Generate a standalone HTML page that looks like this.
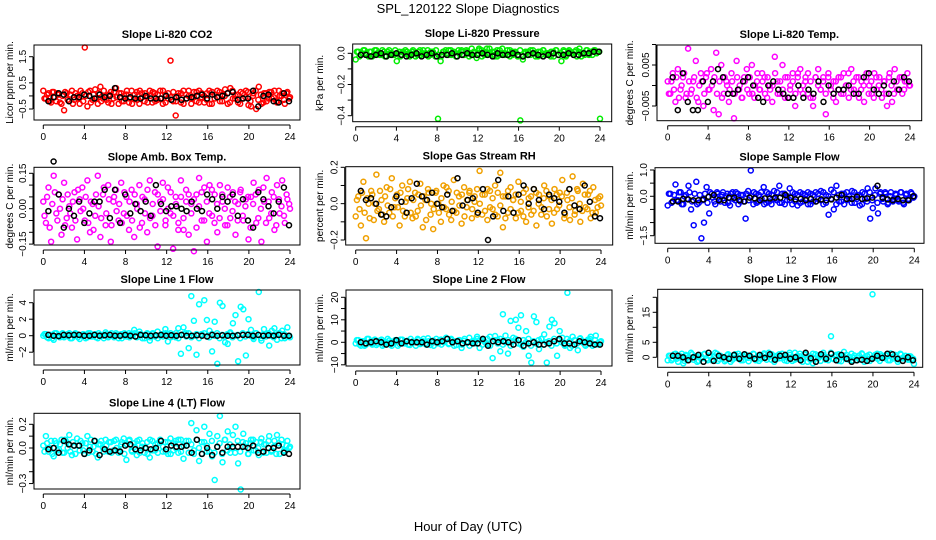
<!DOCTYPE html>
<html><head><meta charset="utf-8">
<style>
body{margin:0;background:#fff;}
svg{display:block;font-family:"Liberation Sans",sans-serif;}
.ttl{font-size:11px;font-weight:bold;text-anchor:middle;}
.tk{font-size:10px;text-anchor:middle;}
.yl{font-size:10px;text-anchor:middle;}
</style></head>
<body>
<svg id="chart" width="936" height="540" viewBox="0 0 936 540" xmlns="http://www.w3.org/2000/svg">
<text x="468" y="13" style="font-size:13px;text-anchor:middle">SPL_120122  Slope Diagnostics</text>
<text x="468" y="531" style="font-size:13px;text-anchor:middle">Hour of Day (UTC)</text>
</svg>
<script>
const xTicks = [0,4,8,12,16,20,24];
const co2Color = [0.2,-0.1,0.1,-0.25,0.15,-0.2,0.05,-0.3,-0.55,0.1,-0.2,0.2,-0.15,0.0,-0.3,0.1,1.85,-0.4,0.2,-0.15,0.25,-0.3,0.35,-0.1,0.0,-0.25,0.15,-0.1,0.3,-0.3,0.1,-0.2,0.05,-0.25,0.2,-0.1,0.15,-0.3,0.1,-0.2,0.0,0.2,-0.25,0.1,-0.15,0.2,-0.3,0.05,-0.1,1.35,-0.2,-0.75,0.1,-0.25,0.2,-0.1,0.0,-0.3,0.15,-0.2,0.2,-0.05,-0.25,0.1,-0.3,0.15,-0.1,0.2,-0.2,0.05,0.25,-0.3,0.3,-0.1,0.0,-0.25,0.15,-0.1,0.2,-0.35,-0.4,0.1,-0.5,0.35,-0.3,0.1,-0.2,0.15,-0.1,0.2,-0.25,0.0,0.1,-0.3,0.15,-0.05];
const co2Color2 = [-0.1,0.05,-0.2,0.15,-0.05,0.1,-0.25,0.0,0.15,-0.15,0.05,-0.3,0.1,-0.1,0.2,-0.2,0.0,0.15,-0.25,0.05,-0.1,0.1,-0.2,0.2,-0.15,0.05,-0.3,0.15,-0.05,0.1,-0.2,0.0,0.2,-0.1,-0.3,0.05,-0.15,0.2,-0.05,0.1,-0.25,0.0,0.15,-0.2,0.05,-0.1,0.2,-0.25,0.1,-0.05,0.15,-0.2,0.0,0.1,-0.3,0.05,0.2,-0.1,-0.05,0.15,-0.25,0.1,0.0,-0.15,0.2,-0.3,0.05,-0.05,0.15,-0.2,0.0,0.1,-0.25,0.2,-0.1,0.05,-0.3,0.1,-0.05,0.15,-0.2,0.0,0.2,-0.15,0.05,-0.25,0.1,-0.1,0.15,-0.05,-0.2,0.2,0.0,-0.15,0.1,-0.1];
const co2Black = [-0.2,-0.05,0.1,0.05,-0.2,-0.05,-0.05,0.05,0.0,-0.1,0.05,-0.05,0.0,0.3,-0.05,-0.1,-0.05,-0.1,-0.1,0.0,-0.1,-0.1,-0.1,0.0,-0.15,-0.05,-0.15,-0.1,-0.05,0.0,0.05,-0.1,0.05,-0.05,0.0,0.1,0.15,-0.15,-0.1,-0.1,0.2,-0.4,0.0,0.05,-0.2,-0.25,0.1,-0.2];
const presColor = [-0.04,0.01,-0.01,0.02,0,-0.02,0.01,-0.01,0.02,0,-0.01,0.01,-0.02,0.02,0,-0.01,-0.05,0.01,-0.01,0.0,0.01,-0.02,0.01,0,-0.01,0.02,0,-0.01,0.02,-0.01,0.01,-0.02,-0.42,-0.05,0.01,0.02,-0.01,0.02,0,-0.02,0.02,0.01,-0.01,0.02,0,-0.01,0.01,-0.03,0.03,0.02,-0.01,0.03,0,0.01,-0.02,0.02,-0.01,0.03,0,-0.01,0.02,-0.01,0.01,-0.02,-0.43,-0.04,0.01,-0.01,0.02,0,-0.02,0.01,-0.01,0.02,0,-0.01,0.01,-0.02,0.02,-0.01,-0.05,0.01,-0.01,0.02,0,0.01,-0.02,0.03,0,-0.01,0.02,0.01,-0.01,0.02,0.01,-0.42];
const presColor2 = [0.01,-0.02,0.0,0.02,-0.01,0.01,-0.02,0.02,0.0,-0.01,0.02,-0.02,0.01,0.0,-0.01,0.02,0.0,-0.02,0.01,0.02,-0.01,0.0,0.02,-0.02,0.01,-0.01,0.02,0.0,-0.02,0.01,0.0,0.02,-0.01,-0.02,0.01,0.0,0.02,-0.01,0.01,-0.02,0.0,0.02,-0.01,0.01,-0.02,0.03,0.0,-0.01,0.02,-0.02,0.01,0.0,0.03,-0.01,0.01,-0.02,0.02,0.0,-0.01,0.02,-0.02,0.01,0.0,-0.01,0.02,-0.02,0.0,0.01,-0.01,0.02,0.0,-0.02,0.01,0.02,-0.01,0.0,-0.02,0.01,0.02,-0.01,0.0,0.02,-0.02,0.01,0.0,-0.01,0.02,0.01,-0.02,0.0,0.02,-0.01,0.01,0.02,0.0,0.01];
const presBlack = [-0.01,-0.01,-0.02,-0.01,0,-0.02,-0.01,0,-0.01,-0.02,-0.01,0,-0.02,-0.01,0,-0.02,-0.01,-0.01,0,-0.02,-0.01,0,-0.01,-0.01,0,-0.01,-0.02,0,-0.01,-0.01,0,-0.01,-0.02,-0.01,0,-0.01,-0.02,-0.01,0,-0.01,-0.01,0,-0.01,-0.01,0,0,0.01,0.01];
const tempColor = [0.001,-0.002,0.003,-0.004,0.004,-0.001,0.002,-0.003,0.009,-0.002,0.001,0.006,-0.004,0.003,-0.005,0.002,-0.001,0.004,-0.006,0.008,-0.007,0.005,-0.002,0.001,-0.004,0.003,-0.008,0.006,-0.001,-0.003,0.002,0.004,-0.002,0.005,-0.003,0.001,-0.001,0.003,0.002,-0.003,0.0,-0.004,0.007,0.001,-0.002,0.005,-0.003,0.002,-0.001,0.003,-0.005,0.002,0.004,-0.002,0.001,0.003,-0.003,-0.005,0.002,0.004,-0.001,0.002,-0.007,0.003,-0.001,0.001,-0.004,0.002,-0.002,0.003,0.0,-0.003,0.004,-0.001,0.002,-0.003,0.001,-0.004,0.003,0.0,-0.002,0.003,-0.001,0.002,-0.003,0.001,-0.005,0.003,-0.004,0.004,-0.001,0.002,-0.002,0.001,0.003,0.0];
const tempColor2 = [-0.002,0.001,-0.001,0.002,-0.003,0.0,0.003,-0.002,0.001,-0.001,0.002,-0.003,0.0,0.001,-0.002,0.003,-0.001,0.0,0.002,-0.002,0.001,-0.003,0.002,0.0,-0.001,0.001,-0.002,0.002,0.0,-0.003,0.001,-0.001,0.002,-0.002,0.0,0.003,-0.001,0.001,-0.002,0.002,-0.001,0.0,0.003,-0.002,0.001,-0.001,0.002,-0.003,0.0,0.001,-0.002,0.003,-0.001,0.0,0.002,-0.002,0.001,-0.003,0.002,0.0,-0.001,0.001,-0.002,0.002,0.0,-0.003,0.001,-0.001,0.002,-0.002,0.0,0.003,-0.001,0.001,-0.002,0.002,-0.001,0.0,0.002,-0.002,0.001,-0.003,0.002,0.0,-0.001,0.001,-0.002,0.002,0.0,-0.002,0.001,-0.001,0.002,-0.001,0.001,0.0];
const tempBlack = [0.002,-0.006,0.003,-0.004,-0.006,-0.006,0.001,-0.004,0.001,0.004,0.002,-0.002,-0.002,-0.001,0.001,0.002,0.0,-0.003,-0.004,0.0,0.001,-0.001,-0.002,-0.003,-0.003,0.0,-0.003,-0.001,-0.002,0.001,-0.004,0.0,-0.002,-0.001,-0.001,0.0,-0.002,-0.002,0.002,0.003,-0.001,-0.002,0.0,-0.002,0.001,-0.001,0.002,0.001];
const boxColor = [0.03,-0.06,0.09,-0.14,0.14,-0.02,0.06,-0.11,0.11,-0.04,0.01,-0.08,0.07,-0.13,0.04,0.09,-0.05,0.12,-0.1,0.02,-0.03,0.14,-0.12,0.06,-0.07,0.1,-0.14,0.03,0.08,-0.05,0.11,-0.02,0.05,-0.09,0.08,-0.12,0.02,0.1,-0.06,0.04,-0.1,0.12,-0.03,0.07,-0.16,0.03,0.11,-0.07,0.09,-0.02,-0.17,0.05,-0.09,0.12,-0.04,0.08,-0.11,0.02,-0.18,0.06,0.13,-0.05,0.09,-0.14,0.1,-0.03,0.06,-0.1,0.1,0.03,-0.07,0.09,-0.04,0.07,-0.11,0.02,0.08,-0.05,0.04,-0.13,0.05,0.11,-0.06,0.08,-0.14,0.03,0.13,-0.04,0.07,-0.09,0.1,-0.02,0.12,-0.06,0.04,0.0];
const boxColor2 = [-0.03,0.05,-0.08,0.02,0.07,-0.05,0.0,0.04,-0.07,0.06,-0.02,0.03,-0.05,0.08,-0.01,0.0,0.05,-0.06,0.03,-0.09,0.06,0.01,-0.04,0.09,-0.02,0.04,-0.07,0.05,-0.01,0.02,-0.06,0.07,-0.03,0.03,-0.05,0.06,0.0,-0.08,0.05,-0.02,0.08,-0.04,0.02,-0.07,0.06,-0.01,0.04,-0.05,0.0,0.07,-0.03,0.02,-0.06,0.05,-0.09,0.03,0.06,-0.02,0.04,-0.08,0.01,0.07,-0.05,0.03,-0.02,0.08,-0.06,0.02,-0.04,0.06,0.0,-0.07,0.05,-0.01,0.03,-0.05,0.07,-0.03,0.01,0.05,-0.08,0.02,0.06,-0.04,0.0,0.09,-0.06,0.03,-0.02,0.05,-0.07,0.04,0.01,-0.03,0.06,0.02];
const boxBlack = [-0.01,0.2,0.06,-0.08,0.0,-0.03,0.03,-0.06,-0.02,0.03,0.03,0.08,-0.04,0.08,-0.06,0.06,-0.02,0.02,-0.01,0.03,-0.03,0.1,0.02,-0.01,0.01,0.01,0.0,-0.01,0.03,0.0,-0.01,0.06,0.04,0.0,0.05,0.03,0.06,-0.03,0.04,-0.05,-0.08,0.07,0.04,0.01,-0.02,0.03,0.09,-0.07];
const rhColor = [-0.07,0.04,-0.12,0.12,-0.19,0.0,0.07,-0.09,0.16,-0.03,0.02,-0.1,0.09,-0.05,0.14,-0.02,0.05,-0.12,0.1,-0.07,0.03,0.12,-0.08,0.06,-0.04,0.11,-0.13,0.02,0.08,-0.06,-0.14,0.06,0.0,-0.1,0.1,-0.03,0.07,-0.09,0.13,-0.05,0.04,-0.11,0.09,-0.02,0.06,-0.08,0.01,0.08,0.18,-0.06,0.05,-0.09,0.07,-0.03,0.1,-0.07,0.17,-0.13,0.04,-0.05,0.09,0.02,-0.08,0.12,-0.04,0.06,-0.1,0.03,-0.06,0.08,-0.12,0.05,-0.02,0.1,-0.07,0.04,-0.11,0.08,-0.03,0.06,0.13,-0.06,0.02,-0.09,0.15,-0.04,0.07,-0.1,0.11,-0.02,0.05,-0.08,0.09,-0.05,0.03,-0.01];
const rhColor2 = [0.02,-0.03,0.06,-0.05,0.03,-0.08,0.05,0.0,-0.04,0.07,-0.06,0.04,-0.01,0.08,-0.07,0.03,-0.02,0.06,-0.04,0.01,0.08,-0.05,0.02,-0.07,0.05,-0.01,0.04,-0.09,0.06,0.0,-0.03,0.07,-0.05,0.03,-0.02,0.09,-0.06,0.01,-0.04,0.06,-0.01,0.05,-0.07,0.02,0.07,-0.03,0.04,-0.06,0.0,0.05,-0.04,0.08,-0.02,0.03,-0.06,0.06,-0.01,0.04,-0.08,0.07,-0.03,0.02,0.05,-0.05,0.01,-0.07,0.08,-0.02,0.04,-0.04,0.06,0.0,-0.06,0.03,0.07,-0.03,0.02,-0.05,0.05,-0.01,0.04,-0.08,0.06,-0.02,0.03,-0.06,0.08,0.0,-0.04,0.05,-0.03,0.07,-0.05,0.02,-0.02,0.04];
const rhBlack = [0.07,0.02,0.03,0.0,-0.06,-0.07,-0.02,0.04,0.01,-0.05,0.03,0.11,0.04,0.02,0.06,0.0,-0.02,0.05,-0.04,0.14,-0.01,0.02,0.03,-0.05,0.08,-0.2,-0.07,0.13,-0.04,0.04,-0.05,0.05,0.1,0.0,0.08,0.02,-0.03,0.05,0.03,0.01,-0.05,0.08,-0.01,-0.03,0.1,0.01,-0.07,-0.08];
const sampColor = [-0.35,0.1,-0.2,0.45,-0.15,0.15,-0.3,0.05,0.4,-0.5,-1.1,0.55,-0.25,-1.6,-1.0,0.35,-0.65,0.1,-0.2,0.15,-0.1,0.05,-0.25,0.1,-0.35,0.15,-0.15,0.1,-0.2,0.05,-0.85,0.2,0.98,-0.3,0.1,-0.2,0.15,0.35,-0.25,0.1,-0.3,0.2,-0.15,0.4,-0.25,0.1,-0.15,0.3,-0.3,0.1,-0.35,0.15,-0.2,0.05,-0.3,0.1,-0.2,0.15,-0.1,0.2,-0.3,0.05,-0.7,0.25,-0.5,0.4,-0.2,0.1,-0.3,0.15,-0.1,0.2,-0.25,0.05,-0.35,0.15,-0.1,0.3,-0.85,-0.45,0.3,-0.65,0.15,-0.2,0.1,-0.25,0.15,-0.1,0.05,-0.2,0.15,-0.3,0.1,-0.15,0.1,0.0];
const sampColor2 = [0.1,-0.25,0.05,-0.15,0.15,-0.3,0.0,-0.1,0.15,-0.2,0.1,-0.3,0.05,-0.15,0.1,-0.25,0.15,-0.05,-0.3,0.1,-0.2,0.15,0.0,-0.25,0.1,-0.1,0.15,-0.3,0.05,-0.2,0.1,-0.15,0.0,0.15,-0.25,0.05,-0.1,-0.3,0.15,-0.2,0.05,-0.1,0.15,-0.25,0.1,-0.3,0.0,-0.15,0.15,-0.2,0.05,-0.25,0.1,-0.1,0.15,-0.3,0.05,-0.2,0.1,-0.15,0.15,-0.25,0.0,-0.1,0.15,-0.3,0.05,-0.2,0.1,-0.15,0.0,-0.25,0.15,-0.1,0.05,-0.3,0.1,-0.2,0.15,-0.15,0.05,-0.25,0.1,-0.1,0.15,-0.3,0.0,-0.2,0.1,-0.15,0.15,-0.25,0.05,-0.1,0.15,-0.05];
const sampBlack = [-0.2,-0.2,-0.1,-0.12,-0.15,-0.15,-0.12,-0.02,0.05,-0.15,-0.15,-0.05,-0.05,-0.15,-0.2,-0.05,-0.08,-0.15,-0.08,-0.08,-0.05,-0.05,0.05,-0.05,-0.12,-0.1,-0.15,-0.1,-0.2,-0.12,-0.15,-0.12,-0.05,0.05,-0.1,-0.1,-0.02,-0.1,-0.08,-0.05,0.4,-0.05,-0.12,-0.15,-0.1,-0.15,-0.15,0.0];
const l1Color = [0.0,0.2,-0.3,0.1,-0.5,0.3,-0.1,0.2,-0.2,0.1,0.3,-0.3,0.0,0.2,-0.4,0.1,0.1,-0.2,0.3,-0.1,0.2,-0.3,0.1,0.0,0.4,-0.2,0.1,-0.1,0.3,-0.3,0.2,0.0,-0.1,0.3,0.2,0.7,-0.2,0.5,0.1,-0.3,0.3,-0.6,0.2,-0.1,0.5,0.0,0.2,0.8,-0.7,0.3,0.1,-0.2,0.9,-2.2,1.0,0.3,-1.5,4.8,1.8,-2.3,3.8,0.2,4.3,1.9,0.6,-1.9,1.7,-3.4,4.0,3.6,-0.8,-1.0,0.4,1.5,2.5,-3.1,3.5,3.2,-2.4,2.0,0.7,-0.4,0.3,5.3,-0.6,0.8,0.2,-1.2,0.6,0.9,-0.5,0.3,0.6,-0.3,1.0,-0.2];
const l1Color2 = [0.2,-0.2,0.1,-0.3,0.3,0.0,-0.2,0.3,-0.1,0.2,-0.3,0.1,0.3,-0.2,0.0,0.2,-0.3,0.3,-0.1,0.1,-0.2,0.3,0.0,-0.3,0.2,-0.1,0.3,-0.2,0.1,0.0,-0.3,0.3,0.1,-0.2,0.0,0.3,-0.1,0.2,-0.3,0.1,0.2,-0.2,0.3,0.0,-0.3,0.1,-0.1,0.3,0.2,-0.2,0.0,0.3,-0.3,0.1,0.2,-0.1,0.3,-0.2,0.0,0.2,-0.3,0.1,0.3,-0.1,-0.2,0.2,0.0,0.3,-0.3,0.1,-0.1,0.2,0.3,-0.2,0.0,0.1,-0.3,0.3,-0.1,0.2,0.0,-0.2,0.3,0.1,-0.3,0.2,-0.1,0.3,0.0,-0.2,0.1,0.3,-0.3,0.2,-0.1,0.0];
const l1Black = [0.1,0.0,-0.05,0.1,0.05,0.1,0.1,0.0,0.0,0.1,0.0,0.05,0.1,0.0,0.0,0.1,0.0,-0.1,0.1,0.05,0.0,0.05,0.1,0.0,0.05,0.0,0.1,0.0,0.0,0.05,0.0,-0.1,0.1,0.0,0.05,0.0,0.0,0.05,0.1,0.1,0.0,0.1,0.0,0.05,0.0,0.1,0.0,0.0];
const l2Color = [-0.5,1.0,-1.5,0.5,-1.0,1.5,-0.5,0.8,-1.2,0.3,1.2,-1.0,0.0,0.8,-1.5,0.5,0.6,-0.8,1.2,-0.5,0.7,-1.2,0.4,0.0,1.5,-0.8,0.5,-0.4,1.8,-1.2,0.8,0.0,-0.5,1.2,0.6,2.0,-0.8,1.5,0.4,-1.2,1.0,-2.5,0.6,-0.3,2.0,0.0,0.8,2.5,-2.5,1.0,0.3,-0.8,2.5,-7.0,2.8,1.0,-4.0,12.5,3.0,-5.0,9.5,2.0,10.0,6.5,12.0,-2.0,5.0,-6.0,-9.0,11.5,9.0,-3.0,1.5,3.5,-9.0,7.0,10.0,8.5,-6.0,5.0,2.0,-1.5,22.0,-2.5,2.5,0.8,-3.5,1.8,0.5,-1.5,1.2,2.5,-0.8,3.0,-1.0,0.5];
const l2Color2 = [1.0,-1.0,0.5,-1.5,1.5,0.0,-1.0,1.2,-0.5,0.8,-1.5,0.3,1.5,-1.0,0.0,1.0,-1.5,1.2,-0.5,0.5,-1.0,1.5,0.0,-1.5,1.0,-0.5,1.5,-1.0,0.5,0.0,-1.5,1.5,0.5,-1.0,0.0,1.5,-0.5,1.0,-1.5,0.5,1.0,-1.0,1.5,0.0,-1.5,0.5,-0.5,1.5,1.0,-1.0,0.0,1.5,-1.5,0.5,1.0,-0.5,1.5,-1.0,0.0,1.0,-1.5,0.5,1.5,-0.5,-1.0,1.0,0.0,1.5,-1.5,0.5,-0.5,1.0,1.5,-1.0,0.0,0.5,-1.5,1.5,-0.5,1.0,0.0,-1.0,1.5,0.5,-1.5,1.0,-0.5,1.5,0.0,-1.0,0.5,1.5,-1.5,1.0,-0.5,0.0];
const l2Black = [0.0,-0.5,0.0,0.5,0.0,-1.0,-0.5,1.0,-0.5,0.5,0.0,0.0,0.0,-1.0,0.5,0.0,0.5,1.5,0.0,0.5,-0.5,0.0,-0.5,-0.5,1.5,-1.5,0.5,0.0,0.5,0.0,-1.0,1.0,-1.5,-0.5,0.0,-1.0,-1.0,-0.5,0.5,1.5,-0.5,-0.5,-1.0,0.5,0.0,-0.5,-1.0,-1.0];
const l3Color = [-1.0,0.5,-0.5,1.2,-1.5,0.3,-2.0,0.8,0.0,1.5,-0.8,0.4,-1.2,0.2,1.0,-0.5,0.6,-1.0,0.3,1.2,-0.6,0.0,-1.3,0.7,0.2,-0.8,1.0,-0.3,0.5,-1.0,0.8,-0.2,0.3,1.2,-1.0,0.5,-0.5,1.0,0.0,1.5,-0.8,0.3,-0.5,1.0,-0.3,0.6,-1.2,1.5,0.0,-0.8,0.5,1.2,-0.6,0.8,-1.5,0.3,-2.0,1.0,-0.4,0.6,1.5,-0.8,0.0,7.0,-0.5,0.8,-1.2,0.4,1.8,-0.6,0.2,-1.0,0.6,0.0,-0.8,1.0,-0.3,0.5,-1.2,21.0,0.8,-0.5,1.0,-0.2,0.6,-1.0,1.3,-0.4,0.2,-0.8,0.9,0.0,-0.5,0.4,-1.0,-2.2];
const l3Color2 = [0.5,-1.0,1.0,-0.5,0.0,1.2,-1.2,0.5,-0.8,1.0,0.0,-1.5,0.8,-0.3,1.2,-1.0,0.3,-0.6,1.5,-1.2,0.5,0.0,-0.8,1.0,-1.5,0.6,-0.2,1.2,-1.0,0.3,0.8,-1.3,0.0,1.0,-0.5,-1.2,0.6,1.3,-0.8,0.2,1.0,-1.5,0.5,-0.3,1.2,-1.0,0.0,0.8,-1.2,1.5,-0.5,0.3,-1.5,1.0,0.0,-0.8,1.2,-0.4,0.6,-1.2,0.8,0.2,-1.0,1.5,-0.6,0.3,1.0,-1.3,0.0,0.8,-0.8,1.2,-0.2,-1.0,0.6,1.3,-1.5,0.4,0.9,-0.6,0.0,1.2,-1.2,0.5,-0.3,1.0,-1.0,0.2,0.8,-1.5,1.2,-0.4,0.5,-0.8,0.3,-0.5];
const l3Black = [0.5,0.5,0.0,-1.0,0.0,0.8,-1.5,1.5,-1.2,0.5,0.0,-0.5,0.8,-0.5,1.0,0.5,-0.5,0.8,-0.2,1.0,-0.8,0.5,0.8,-0.5,0.0,-1.0,1.5,-0.3,-1.5,1.0,-0.5,1.2,-1.0,0.8,-0.5,-1.5,-1.0,-0.8,-1.2,-0.5,0.5,-0.2,1.2,1.0,-0.5,-1.2,0.0,-1.0];
const l4Color = [0.02,0.1,-0.03,0.06,-0.07,0.04,-0.01,0.07,-0.04,0.05,0.11,-0.06,0.02,0.08,-0.02,0.04,-0.05,0.1,0.01,-0.03,0.06,-0.08,0.03,0.0,0.07,-0.03,0.05,-0.02,0.07,-0.04,0.03,0.08,-0.1,0.06,-0.02,0.04,-0.06,0.07,0.01,-0.04,0.05,-0.08,0.06,-0.02,0.04,0.07,-0.03,0.05,-0.05,0.08,-0.02,0.06,-0.04,0.07,-0.09,0.02,0.06,0.21,-0.05,0.15,-0.11,0.05,0.18,-0.03,0.12,-0.07,-0.27,0.1,0.27,-0.12,0.07,0.14,-0.04,0.11,0.18,-0.13,-0.35,0.12,0.04,-0.05,0.07,-0.02,0.05,-0.06,0.08,0.03,-0.04,0.1,-0.02,0.06,0.11,-0.05,0.03,-0.03,0.06,0.01];
const l4Color2 = [-0.03,0.04,0.0,-0.05,0.06,-0.02,0.03,-0.04,0.07,0.0,-0.03,0.05,-0.05,0.02,0.06,-0.02,0.04,-0.04,0.07,0.01,-0.05,0.03,0.06,-0.03,0.02,0.05,-0.04,0.06,0.0,-0.02,0.05,-0.05,0.03,0.07,-0.03,0.01,0.06,-0.04,0.04,0.0,-0.05,0.07,-0.02,0.03,-0.04,0.06,0.01,-0.03,0.05,-0.05,0.04,0.0,0.07,-0.03,0.02,0.06,-0.04,0.03,-0.02,0.07,0.0,-0.05,0.05,0.02,-0.03,0.06,-0.04,0.01,0.04,-0.05,0.07,-0.02,0.03,0.0,-0.04,0.06,-0.03,0.05,0.01,-0.05,0.04,0.07,-0.02,0.0,0.05,-0.04,0.03,0.06,-0.03,0.01,-0.05,0.04,0.07,-0.02,0.02,0.0];
const l4Black = [-0.01,0.0,-0.04,0.06,0.03,0.02,0.02,-0.05,-0.02,0.06,-0.06,-0.01,-0.03,-0.02,-0.03,0.02,0.03,-0.01,-0.02,0.0,-0.01,0.0,0.06,-0.01,0.02,0.01,0.01,0.02,-0.04,0.07,-0.05,0.0,-0.06,0.01,-0.04,0.01,0.01,0.01,0.01,0.0,0.02,-0.04,-0.03,0.0,0.0,0.02,-0.04,-0.05];

const panels = [
 {id:'co2',title:'Slope Li-820 CO2',yl:'Licor ppm per min.',ylx:10,box:[34,45,300,120],xp:[43.3,290],ym:[1.5,56.7,-0.5,109],ticks:[-0.5,0,0.5,1,1.5],labs:['-0.5','0.5','1.5'],c:'#ff0000',cv:co2Color,cv2:co2Color2,bv:co2Black},
 {id:'pressure',title:'Slope Li-820 Pressure',yl:'kPa per min.',ylx:320,box:[352.7,44,611.7,121.7],xp:[355.7,600],ym:[0,53.3,-0.4,115.7],ticks:[0,-0.1,-0.2,-0.3,-0.4],labs:['0.0','-0.2','-0.4'],c:'#00ee00',cv:presColor,cv2:presColor2,bv:presBlack},
 {id:'temp',title:'Slope Li-820 Temp.',yl:'degrees C per min.',ylx:630,box:[657,45,921.7,120.7],xp:[667.7,910],ym:[0.005,65,-0.005,106],ticks:[-0.005,0,0.005,0.01],labs:['-0.005','0.005'],c:'#ff00ff',cv:tempColor,cv2:tempColor2,bv:tempBlack},
 {id:'box-temp',title:'Slope Amb. Box Temp.',yl:'degrees C per min.',ylx:10,box:[34,167.3,300,245],xp:[43.3,290],ym:[0.15,173.3,0,208.7],ticks:[-0.15,-0.1,-0.05,0,0.05,0.1,0.15],labs:['-0.15','0.00','0.15'],c:'#ff00ff',cv:boxColor,cv2:boxColor2,bv:boxBlack},
 {id:'rh',title:'Slope Gas Stream RH',yl:'percent per min.',ylx:320,box:[345.7,166.7,612.7,245],xp:[355.7,601],ym:[0.2,167.3,-0.2,240],ticks:[-0.2,-0.1,0,0.1,0.2],labs:['-0.2','0.0','0.2'],c:'#f0a000',cv:rhColor,cv2:rhColor2,bv:rhBlack},
 {id:'sample-flow',title:'Slope Sample Flow',yl:'ml/min per min.',ylx:630,box:[655,167.7,924,243.3],xp:[667.7,914.3],ym:[1.0,170,-1.5,235.7],ticks:[-1.5,-1,-0.5,0,0.5,1],labs:['-1.5','0.0','1.0'],c:'#0000ff',cv:sampColor,cv2:sampColor2,bv:sampBlack},
 {id:'line1',title:'Slope Line 1 Flow',yl:'ml/min per min.',ylx:10,box:[34,290,300,365],xp:[43.3,290],ym:[4,302.7,0,335.7],ticks:[-2,0,2,4],labs:['-2','0','2','4'],c:'#00ffff',cv:l1Color,cv2:l1Color2,bv:l1Black},
 {id:'line2',title:'Slope Line 2 Flow',yl:'ml/min per min.',ylx:320,box:[346,290,612,366],xp:[355.7,601],ym:[20,297.3,0,342.3],ticks:[-10,-5,0,5,10,15,20],labs:['-10','0','10','20'],c:'#00ffff',cv:l2Color,cv2:l2Color2,bv:l2Black},
 {id:'line3',title:'Slope Line 3 Flow',yl:'ml/min per min.',ylx:630,box:[657.7,289.3,922.7,367.3],xp:[667.7,914],ym:[15,312.3,0,357.3],ticks:[0,5,10,15,20],labs:['0','5','15'],c:'#00ffff',cv:l3Color,cv2:l3Color2,bv:l3Black},
 {id:'line4',title:'Slope Line 4 (LT) Flow',yl:'ml/min per min.',ylx:10,box:[34,413.3,300,489],xp:[43.3,290],ym:[0.2,424.3,0,448],ticks:[-0.3,-0.2,-0.1,0,0.1,0.2],labs:['-0.3','0.0','0.2'],c:'#00ffff',cv:l4Color,cv2:l4Color2,bv:l4Black}
];

const NS='http://www.w3.org/2000/svg';
const svg=document.getElementById('chart');
function mk(tag,attrs,parent){const e=document.createElementNS(NS,tag);for(const k in attrs)e.setAttribute(k,attrs[k]);(parent||svg).appendChild(e);return e;}
function fmt(s){return s.replace('-','\u2212');}

panels.forEach(p=>{
  const g=mk('g',{});
  
  
  const [bx0,by0,bx1,by1]=p.box;
  const xs=t=>p.xp[0]+(p.xp[1]-p.xp[0])*t/24;
  const ys=v=>p.ym[1]+(v-p.ym[0])*(p.ym[3]-p.ym[1])/(p.ym[2]-p.ym[0]);
  const t=mk('text',{x:(bx0+bx1)/2,y:by0-7,class:'ttl'},g);t.textContent=p.title;
  
  
  const pts=mk('g',{fill:'none','stroke-width':1.5},g);
  
  
  p.cv.forEach((v,i)=>{
    const c=mk('circle',{cx:xs(i*24/(p.cv.length-1)).toFixed(1),cy:ys(v).toFixed(1),r:2.5,stroke:p.c},pts);
    
    
  });
  p.cv2.forEach((v,i)=>{
    const c=mk('circle',{cx:xs(0.12+i*23.8/(p.cv2.length-1)).toFixed(1),cy:ys(v).toFixed(1),r:2.5,stroke:p.c},pts);
    
    
  });
  p.bv.forEach((v,i)=>{
    const c=mk('circle',{cx:xs(0.5+i*23.4/(p.bv.length-1)).toFixed(1),cy:ys(v).toFixed(1),r:2.5,stroke:'#000'},pts);
    
    
  });
  const r=mk('rect',{x:bx0,y:by0,width:bx1-bx0,height:by1-by0,fill:'none',stroke:'#000','stroke-width':1},g);
  
  
  const xa=mk('g',{stroke:'#000'},g);
  
  
  mk('line',{x1:xs(0),x2:xs(24),y1:by1+5,y2:by1+5},xa);
  xTicks.forEach(v=>{
    mk('line',{x1:xs(v),x2:xs(v),y1:by1+5,y2:by1+9},xa);
    const l=mk('text',{x:xs(v),y:by1+20,class:'tk',stroke:'none'},xa);l.textContent=v;
  });
  const ya=mk('g',{stroke:'#000'},g);
  
  
  const tv=p.ticks.map(ys);
  mk('line',{x1:bx0-1,x2:bx0-1,y1:Math.min(...tv),y2:Math.max(...tv)},ya);
  p.ticks.forEach(v=>{mk('line',{x1:bx0-5,x2:bx0-1,y1:ys(v),y2:ys(v)},ya);});
  p.labs.forEach(s=>{
    const y=ys(parseFloat(s)),x=bx0-8;
    const l=mk('text',{x:x,y:y,class:'tk',stroke:'none',transform:`rotate(-90 ${x} ${y})`},ya);l.textContent=fmt(s);
  });
  const cy=(by0+by1)/2;
  const yl=mk('text',{x:p.ylx+3,y:cy,class:'yl',transform:`rotate(-90 ${p.ylx+3} ${cy})`},g);yl.textContent=p.yl;
  
  
});
</script>
</body></html>
